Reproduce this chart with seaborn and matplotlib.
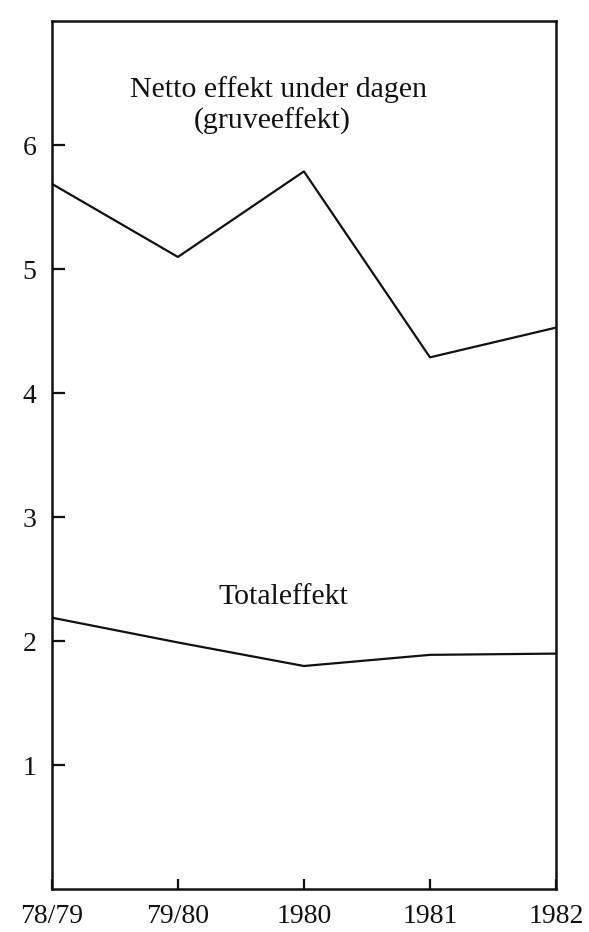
import matplotlib
matplotlib.use("Agg")
import matplotlib.pyplot as plt
import seaborn as sns
import pandas as pd

categories = ["78/79", "79/80", "1980", "1981", "1982"]
netto = [5.69, 5.10, 5.79, 4.29, 4.53]
total = [2.19, 1.99, 1.80, 1.89, 1.90]
y_ticks = [1, 2, 3, 4, 5, 6]

sns.set_theme(style="white")
plt.rcParams["font.family"] = ["Liberation Serif", "DejaVu Serif"]

pos = list(range(len(categories)))
df = pd.concat([
    pd.DataFrame({"pos": pos, "value": netto, "serie": "netto"}),
    pd.DataFrame({"pos": pos, "value": total, "serie": "total"}),
])

fig = plt.figure(figsize=(5.89, 9.32), dpi=100)
ax = fig.add_axes([0.088, 0.046, 0.856, 0.931])
sns.lineplot(data=df, x="pos", y="value", units="serie", estimator=None,
             color="#111111", linewidth=1.6, ax=ax, legend=False)

ax.set_xlim(0, 4)
ax.set_ylim(0, 7)
ax.set_xticks(pos)
ax.set_xticklabels(categories)
ax.set_yticks(y_ticks)
ax.set_yticklabels([str(v) for v in y_ticks])
ax.set_xlabel("")
ax.set_ylabel("")
for s in ax.spines.values():
    s.set_color("#111111")
    s.set_linewidth(1.8)
ax.tick_params(axis="y", direction="in", length=9.5, width=1.6, colors="#111111",
               labelsize=20, pad=11, left=True)
ax.tick_params(axis="x", direction="in", length=7, width=1.6, colors="#111111",
               labelsize=20, pad=11, bottom=True)

ax.text(1.80, 6.45, "Netto effekt under dagen", ha="center", va="center",
        fontsize=21.5, color="#111111")
ax.text(1.75, 6.19, "(gruveeffekt)", ha="center", va="center",
        fontsize=21.5, color="#111111")
ax.text(1.84, 2.36, "Totaleffekt", ha="center", va="center",
        fontsize=21.5, color="#111111")

fig.savefig("out.png", dpi=100, facecolor="white")
